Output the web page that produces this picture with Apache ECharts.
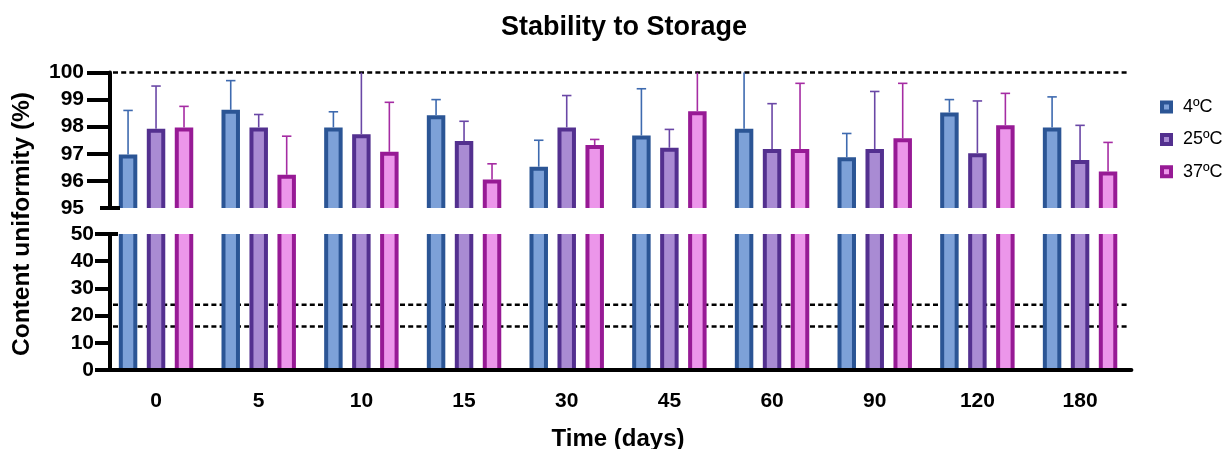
<!DOCTYPE html>
<html>
<head>
<meta charset="utf-8">
<script src="https://cdn.jsdelivr.net/npm/echarts@6/dist/echarts.min.js"></script>
<style>
  html, body { margin: 0; padding: 0; background: #ffffff; }
  #chart { width: 1223px; height: 449px; }
</style>
</head>
<body>
<div id="chart"></div>
<script>
// Storage time points (days) and temperature groups
const days = ['0', '5', '10', '15', '30', '45', '60', '90', '120', '180'];
const temps = ['4ºC', '25ºC', '37ºC'];

// Mean content uniformity (%) per temperature
const mean4  = [96.9, 98.55, 97.9, 98.35, 96.45, 97.6, 97.85, 96.8, 98.45, 97.9];
const mean25 = [97.85, 97.9, 97.65, 97.4, 97.9, 97.15, 97.1, 97.1, 96.95, 96.7];
const mean37 = [97.9, 96.15, 97.0, 95.98, 97.25, 98.5, 97.1, 97.5, 97.98, 96.27];

// Standard deviations (upper error bars)
const sd4  = [1.7, 1.15, 0.65, 0.65, 1.05, 1.8, 2.4, 0.95, 0.55, 1.2];
const sd25 = [1.65, 0.55, 2.5, 0.8, 1.25, 0.75, 1.75, 2.2, 2.0, 1.35];
const sd37 = [0.85, 1.5, 1.9, 0.65, 0.28, 1.7, 2.5, 2.1, 1.25, 1.15];

// Reference levels drawn as dotted lines
const upperRef = [100];
const lowerRefs = [24, 16];

// Broken value axis: upper and lower segments with their tick labels
const upperTicks = [95, 96, 97, 98, 99, 100];
const lowerTicks = [0, 10, 20, 30, 40, 50];

const means = [mean4, mean25, mean37];
const sds = [sd4, sd25, sd37];

const FONT = "'Liberation Sans', Arial, Helvetica, sans-serif";
const palette = [
  { border: '#2B5595', fill: '#7DA1D8', err: '#3E6AAF' },
  { border: '#53308F', fill: '#A98BD3', err: '#6A47A6' },
  { border: '#971A95', fill: '#EC96EA', err: '#A52CA3' }
];

const UP = { min: upperTicks[0], max: upperTicks[upperTicks.length - 1] };
const LO = { min: lowerTicks[0], max: lowerTicks[lowerTicks.length - 1] };

const GRID_LEFT = 104.7;
const GRID_WIDTH = 1026.7;
const AXIS_SHIFT = 5.3;          // y axis sits slightly inside the plot area
const GROUP_STEP = 0.2725;       // spacing between bars in a group (fraction of band)
const BAR_FRAC = 0.141;          // bar body width (fraction of band)
const BORDER = 4;

// Bar with thick outline; the lower segment bars are open at the top (axis break)
function barItem(k, seg, closedTop) {
  return function (params, api) {
    const i = api.value(0);
    const v = Math.min(api.value(1), seg.max);
    const band = api.size([1, 0])[0];
    const base = api.coord([i, seg.min]);
    const top = api.coord([i, v]);
    const cx = base[0] + (k - 1) * band * GROUP_STEP;
    const w = band * BAR_FRAC;
    const x0 = cx - w / 2, x1 = cx + w / 2;
    const c = palette[k];
    const children = [{
      type: 'rect',
      shape: { x: x0, y: top[1], width: w, height: base[1] - top[1] },
      style: { fill: c.fill }
    }];
    const stroke = { stroke: c.border, lineWidth: BORDER, fill: null, lineJoin: 'miter' };
    if (closedTop) {
      children.push({
        type: 'polyline',
        shape: { points: [[x0, base[1]], [x0, top[1]], [x1, top[1]], [x1, base[1]]] },
        style: stroke
      });
    } else {
      children.push({ type: 'line', shape: { x1: x0, y1: base[1], x2: x0, y2: top[1] }, style: stroke });
      children.push({ type: 'line', shape: { x1: x1, y1: base[1], x2: x1, y2: top[1] }, style: stroke });
    }
    return { type: 'group', children: children };
  };
}

// Upper error bar (mean + SD), cut at the top of the axis
function errItem(k) {
  return function (params, api) {
    const i = api.value(0);
    const m = api.value(1);
    const hi = m + api.value(2);
    const band = api.size([1, 0])[0];
    const p0 = api.coord([i, m]);
    const p1 = api.coord([i, Math.min(hi, UP.max)]);
    const cx = p0[0] + (k - 1) * band * GROUP_STEP;
    const half = band * 0.046;
    const st = { stroke: palette[k].err, lineWidth: 1.6 };
    const children = [{ type: 'line', shape: { x1: cx, y1: p0[1] - BORDER / 2, x2: cx, y2: p1[1] }, style: st }];
    if (hi <= UP.max) {
      children.push({ type: 'line', shape: { x1: cx - half, y1: p1[1], x2: cx + half, y2: p1[1] }, style: st });
    }
    return { type: 'group', children: children };
  };
}

// Horizontal dotted reference line across the plot area
function refLine(params, api) {
  const cs = params.coordSys;
  const y = api.coord([0, api.value(1)])[1];
  return {
    type: 'line',
    shape: { x1: cs.x + AXIS_SHIFT + 3, y1: y, x2: cs.x + cs.width - 3, y2: y },
    style: { stroke: '#000', lineWidth: 2.6, lineDash: [5, 3.2] }
  };
}

const series = [];
series.push({
  type: 'custom', name: 'ref-upper', xAxisIndex: 0, yAxisIndex: 0, z: 1, silent: true,
  renderItem: refLine, data: upperRef.map(v => [0, v])
});
series.push({
  type: 'custom', name: 'ref-lower', xAxisIndex: 1, yAxisIndex: 1, z: 1, silent: true,
  renderItem: refLine, data: lowerRefs.map(v => [0, v])
});
temps.forEach((t, k) => {
  const data = days.map((d, i) => [i, means[k][i], sds[k][i]]);
  series.push({
    type: 'custom', name: t, xAxisIndex: 0, yAxisIndex: 0, z: 2,
    itemStyle: { color: palette[k].border },
    renderItem: barItem(k, UP, true), data: data
  });
  series.push({
    type: 'custom', name: t, xAxisIndex: 0, yAxisIndex: 0, z: 3,
    itemStyle: { color: palette[k].border },
    renderItem: errItem(k), data: data
  });
  series.push({
    type: 'custom', name: t, xAxisIndex: 1, yAxisIndex: 1, z: 2,
    itemStyle: { color: palette[k].border },
    renderItem: barItem(k, LO, false), data: data
  });
});

const labelStyle = { color: '#000', fontFamily: FONT, fontWeight: 'bold', fontSize: 21 };

const option = {
  animation: false,
  backgroundColor: '#ffffff',
  title: {
    text: 'Stability to Storage',
    left: 496, top: 9,
    textStyle: { color: '#000', fontFamily: FONT, fontWeight: 'bold', fontSize: 27 }
  },
  legend: {
    orient: 'vertical',
    left: 1155, top: 93,
    itemWidth: 23, itemHeight: 9, itemGap: 14.4,
    icon: 'path://M0,0H10V10H0Z',
    textStyle: { color: '#000', fontFamily: FONT, fontSize: 18 },
    data: temps.map((t, k) => ({
      name: t,
      itemStyle: { color: palette[k].fill, borderColor: palette[k].border, borderWidth: 4 }
    }))
  },
  grid: [
    { left: GRID_LEFT, width: GRID_WIDTH, top: 72.5, height: 135.5, outerBoundsMode: 'none' },
    { left: GRID_LEFT, width: GRID_WIDTH, top: 234, height: 136, outerBoundsMode: 'none' }
  ],
  xAxis: [
    { gridIndex: 0, type: 'category', data: days, show: false },
    {
      gridIndex: 1, type: 'category', data: days, z: 5,
      axisLine: { lineStyle: { color: '#000', width: 4 } },
      axisTick: { alignWithLabel: true, length: 15, lineStyle: { color: '#000', width: 4 } },
      axisLabel: Object.assign({ margin: 21 }, labelStyle),
      name: 'Time (days)', nameLocation: 'middle', nameGap: 57,
      nameTextStyle: { color: '#000', fontFamily: FONT, fontWeight: 'bold', fontSize: 24 }
    }
  ],
  yAxis: [
    {
      gridIndex: 0, type: 'value', min: UP.min, max: UP.max, interval: 1,
      offset: -AXIS_SHIFT, z: 5,
      splitLine: { show: false },
      axisLine: { show: true, lineStyle: { color: '#000', width: 4 } },
      axisTick: { show: true, length: 23, lineStyle: { color: '#000', width: 4 },
                  customValues: upperTicks.slice(1) },
      axisLabel: Object.assign({ margin: 26, customValues: upperTicks }, labelStyle)
    },
    {
      gridIndex: 1, type: 'value', min: LO.min, max: LO.max, interval: 10,
      offset: -AXIS_SHIFT, z: 5,
      splitLine: { show: false },
      axisLine: { show: true, lineStyle: { color: '#000', width: 4 } },
      axisTick: { show: true, length: 15, lineStyle: { color: '#000', width: 4 },
                  customValues: lowerTicks.slice(0, -1) },
      axisLabel: Object.assign({ margin: 16, customValues: lowerTicks }, labelStyle)
    }
  ],
  graphic: [{
    type: 'text', x: 22.5, y: 224, rotation: Math.PI / 2,
    style: {
      text: 'Content uniformity (%)', fill: '#000',
      font: 'bold 24.5px ' + FONT, textAlign: 'center', textVerticalAlign: 'middle'
    }
  }],
  series: series
};

const chart = echarts.init(document.getElementById('chart'), null, { renderer: 'canvas' });
chart.setOption(option);

// End caps of the two axis segments at the break
const axisX = GRID_LEFT + AXIS_SHIFT;
const yBreakUp = chart.convertToPixel({ yAxisIndex: 0 }, UP.min);
const yBreakLo = chart.convertToPixel({ yAxisIndex: 1 }, LO.max);
chart.setOption({
  graphic: [
    option.graphic[0],
    { type: 'line', z: 10, shape: { x1: axisX - 10, y1: yBreakUp, x2: axisX + 10, y2: yBreakUp },
      style: { stroke: '#000', lineWidth: 4 } },
    { type: 'line', z: 10, shape: { x1: axisX - 15, y1: yBreakLo, x2: axisX + 8, y2: yBreakLo },
      style: { stroke: '#000', lineWidth: 4 } }
  ]
});
</script>
</body>
</html>
